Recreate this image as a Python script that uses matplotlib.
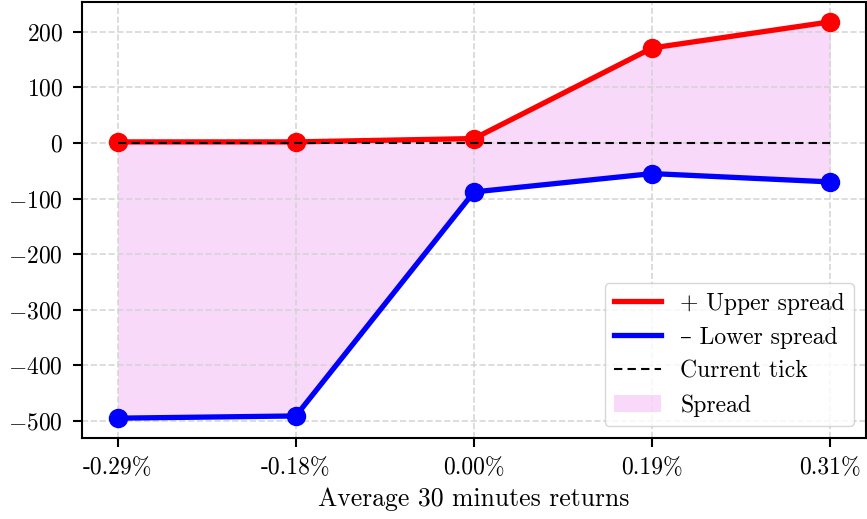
import matplotlib
matplotlib.use("Agg")
import matplotlib.pyplot as plt
import numpy as np

plt.rcParams['font.family'] = ['cmr10', 'DejaVu Serif']
plt.rcParams['mathtext.fontset'] = 'cm'
plt.rcParams['axes.formatter.use_mathtext'] = True
plt.rcParams['axes.unicode_minus'] = True

categories = ["-0.29%", "-0.18%", "0.00%", "0.19%", "0.31%"]
upper_spread = [2, 2, 8, 171, 218]
lower_spread = [-495, -491, -88, -55, -70]
current_tick = [0, 0, 0, 0, 0]

x = np.arange(len(categories))

fig = plt.figure(figsize=(8.67, 5.19), dpi=100)
ax = fig.add_axes([82/867, 1-438/519, 1-82/867-1/867, 436/519])

ax.fill_between(x, lower_spread, upper_spread, color='violet', alpha=0.3, linewidth=0, label='Spread')
ax.plot(x, upper_spread, color='red', lw=3.8, label='+ Upper spread')
ax.plot(x, upper_spread, 'o', color='red', ms=13)
ax.plot(x, lower_spread, color='blue', lw=3.8, label='\u2013 Lower spread')
ax.plot(x, lower_spread, 'o', color='blue', ms=13)
ax.plot(x, current_tick, '--', color='black', lw=1.5, dashes=(4, 2.5), label='Current tick')

ax.set_xticks(x)
ax.set_xticklabels(categories)
ax.set_xlabel('Average 30 minutes returns', fontsize=18.5, labelpad=6)
ax.tick_params(labelsize=17, width=1.5, length=6.5, pad=7)
ax.grid(True, linestyle='--', color='lightgray', alpha=0.9, lw=1.2)
for s in ax.spines.values():
    s.set_linewidth(1.5)

h, l = ax.get_legend_handles_labels()
order = [1, 2, 3, 0]
ax.legend([h[i] for i in order], [l[i] for i in order], loc='lower right', fontsize=17, framealpha=0.8)

fig.savefig('out.png', dpi=100)
